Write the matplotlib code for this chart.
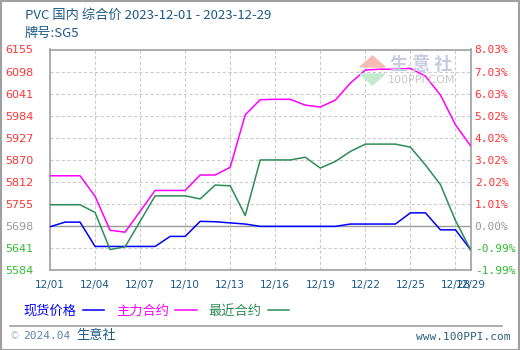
import matplotlib
matplotlib.use("Agg")
import matplotlib.pyplot as plt
from matplotlib.patches import Polygon, Rectangle
from matplotlib.lines import Line2D

plt.rcParams['font.family'] = ['Noto Sans CJK SC', 'DejaVu Sans']

# data: calendar day of December 2023
days = list(range(1, 30))
spot = [5696, 5708, 5708, 5645, 5645, 5645, 5645, 5645, 5671, 5671,
        5710, 5709, 5706, 5703, 5697, 5697, 5697, 5697, 5697, 5697,
        5703, 5703, 5703, 5703, 5732, 5732, 5688, 5688, 5637]
main = [5828, 5828, 5828, 5775, 5687, 5682, 5736, 5790, 5790, 5790,
        5830, 5830, 5850, 5986, 6025, 6026, 6026, 6011, 6006, 6024,
        6068, 6102, 6104, 6104, 6106, 6086, 6037, 5960, 5906]
near = [5753, 5753, 5753, 5733, 5637, 5644, 5710, 5776, 5776, 5776,
        5768, 5804, 5802, 5725, 5869, 5869, 5869, 5876, 5848, 5865,
        5891, 5910, 5910, 5910, 5902, 5856, 5805, 5712, 5637]

yticks = [5584, 5641, 5698, 5755, 5812, 5870, 5927, 5984, 6041, 6098, 6155]
pct_labels = ['-1.99%', '-0.99%', '0.00%', '1.01%', '2.02%', '3.02%',
              '4.02%', '5.02%', '6.03%', '7.03%', '8.03%']
xticks = [1, 4, 7, 10, 13, 16, 19, 22, 25, 28, 29]
xlabels = ['12/01', '12/04', '12/07', '12/10', '12/13', '12/16', '12/19',
           '12/22', '12/25', '12/28', '12/29']
base = 5698

BLUE = '#0000ff'
MAG = '#ff00ff'
GREEN = '#2e8b57'
TEAL = '#1d5a86'

fig = plt.figure(figsize=(5.2, 3.5), dpi=100)
W, H = 520, 350

ax = fig.add_axes([50 / W, 1 - 270 / H, 420.5 / W, 220.5 / H])
ax.set_xlim(1, 29)
ax.set_ylim(5584, 6155)

# grid
for t in yticks:
    if t == base:
        ax.axhline(t, color='#999999', lw=1.0, zorder=1)
    else:
        ax.axhline(t, color='#cccccc', lw=0.8, ls=(0, (3, 2)), zorder=1)
for t in xticks[1:-2]:
    ax.axvline(t, color='#cccccc', lw=0.8, ls=(0, (3, 2)), zorder=1)
ax.axvline(28, color='#cccccc', lw=0.8, ls=(0, (3, 2)), zorder=1)

# watermark
fig.text(421 / W, 1 - 65 / H, '生 意 社', color='#c8cce2', fontsize=13,
         ha='center', va='center', fontweight='bold')
fig.text(422 / W, 1 - 80 / H, '100PPI.COM', color='#c8c8c8', fontsize=8,
         ha='center', va='center', family=['DejaVu Sans'])
fig.patches.append(Polygon([(360 / W, 1 - 67 / H), (385 / W, 1 - 67 / H),
                            (372.5 / W, 1 - 56 / H)], closed=True,
                           transform=fig.transFigure, color='#f5bcb4', zorder=0))
fig.patches.append(Polygon([(360 / W, 1 - 74 / H), (385 / W, 1 - 74 / H),
                            (372.5 / W, 1 - 85 / H)], closed=True,
                           transform=fig.transFigure, color='#c4ead0', zorder=0))

ax.plot(days, spot, color=BLUE, lw=1.1, zorder=3, label='现货价格')
ax.plot(days, main, color=MAG, lw=1.1, zorder=3, label='主力合约')
ax.plot(days, near, color=GREEN, lw=1.1, zorder=3, label='最近合约')

for s in ax.spines.values():
    s.set_color('#a0a0a0')
    s.set_linewidth(1.2)

ax.set_xticks(xticks)
ax.set_xticklabels(xlabels)
ax.tick_params(axis='x', length=0, pad=7, labelsize=7.5, labelcolor=TEAL)
for lbl in ax.get_xticklabels():
    lbl.set_family(['DejaVu Sans'])

left_colors = ['#33bb33', '#33bb33', '#999999'] + ['#ff3333'] * 8
ax.set_yticks(yticks)
ax.set_yticklabels([str(t) for t in yticks])
ax.tick_params(axis='y', length=0, pad=32, labelsize=8)
for lbl, c in zip(ax.get_yticklabels(), left_colors):
    lbl.set_ha('left')
    lbl.set_color(c)
    lbl.set_family(['DejaVu Sans'])

ax2 = ax.twinx()
ax2.set_ylim(5584, 6155)
ax2.set_yticks(yticks)
ax2.set_yticklabels(pct_labels)
ax2.tick_params(axis='y', length=0, pad=3, labelsize=8)
for lbl, c in zip(ax2.get_yticklabels(), left_colors):
    lbl.set_color(c)
    lbl.set_family(['DejaVu Sans Mono'])
for s in ax2.spines.values():
    s.set_visible(False)

# title
fig.text(25 / W, 1 - 15 / H, 'PVC 国内 综合价 2023-12-01 - 2023-12-29',
         color=TEAL, fontsize=9.5, ha='left', va='center')
fig.text(25 / W, 1 - 33 / H, '牌号:SG5', color=TEAL, fontsize=9.5,
         ha='left', va='center')

# legend (text first, then line)
leg = fig.legend(loc='center left', bbox_to_anchor=(18 / W, 1 - 311 / H),
                 ncol=3, frameon=False, markerfirst=False, fontsize=9.5,
                 handlelength=1.6, handletextpad=0.5, columnspacing=0.9,
                 labelcolor='linecolor', borderaxespad=0)

# separator and footer
fig.add_artist(Line2D([10 / W, 502 / W], [1 - 326 / H, 1 - 326 / H],
                      color='#a0a0a0', lw=1.2))
fig.text(10 / W, 1 - 336 / H, '©', color='#b0c0d0', fontsize=7,
         ha='left', va='center', family=['DejaVu Sans'])
fig.text(23 / W, 1 - 336 / H, '2024.04', color='#5a86aa', fontsize=8,
         ha='left', va='center', family=['DejaVu Sans Mono'])
fig.text(76 / W, 1 - 336 / H, '生意社', color=TEAL, fontsize=9.5,
         ha='left', va='center')
fig.text(510 / W, 1 - 337 / H, 'www.100PPI.com', color='#2a607f', fontsize=8,
         ha='right', va='center', family=['DejaVu Sans Mono'])

# outer border
fig.patches.append(Rectangle((0.001, 0.001), 0.997, 0.997, fill=False,
                             transform=fig.transFigure, edgecolor='#a0a0a0',
                             lw=1.5))

fig.savefig('out.png', dpi=100)
